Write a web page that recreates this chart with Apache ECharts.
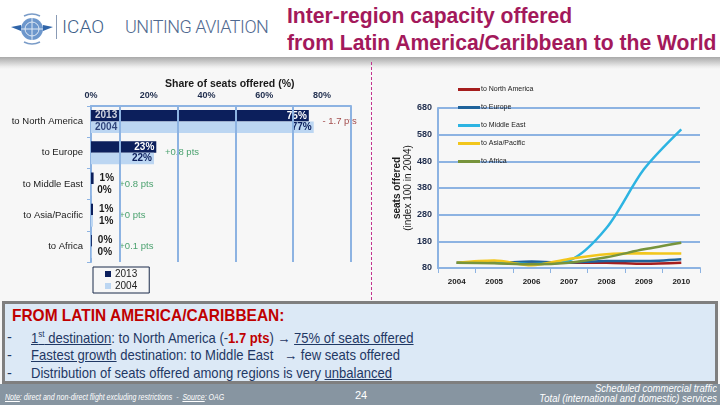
<!DOCTYPE html>
<html>
<head>
<meta charset="utf-8">
<script src="https://cdn.jsdelivr.net/npm/echarts@6/dist/echarts.min.js"></script>
<style>
  body { margin: 0; width: 720px; height: 405px; overflow: hidden; background: #f7f7f7; font-family: "Liberation Sans", sans-serif; }
  .abs { position: absolute; }
  .narrow { transform-origin: 0 0; white-space: nowrap; }
  #header { left: 0; top: 0; width: 720px; height: 57px; background: #fff; }
  #shade { left: 0; top: 57px; width: 720px; height: 12px; background: linear-gradient(#a9a9a9, #ececec 80%, #f7f7f7); }
  .ttl { left: 287px; color: #a3195b; font-family: "Liberation Sans", sans-serif; font-weight: bold; font-size: 22px; transform: scaleX(0.96); }
  #icao { left: 56px; top: 15px; font-family: Roboto, sans-serif; font-weight: 300; font-size: 19px; color: #3f5f8a; border-left: 1px solid #8a9bb5; padding-left: 5px; line-height: 24px; }
  #unit { left: 125px; top: 15px; font-family: Roboto, sans-serif; font-weight: 300; font-size: 18px; color: #50698f; letter-spacing: -0.5px; line-height: 24px; }
  #divider { left: 371px; top: 62px; height: 238px; border-left: 1px dashed #c2338f; }
  #box { left: 2px; top: 301px; width: 710px; height: 77px; background: #dce9f6; border: 3px solid #7f7f7f; }
  #box .hd { position: absolute; left: 7px; top: 2px; color: #c00000; font-weight: bold; font-size: 17px; transform: scaleX(0.91); }
  #box .d { position: absolute; left: 2px; color: #1f3864; font-size: 14.5px; }
  #box .ln { position: absolute; left: 26px; color: #1f3864; font-size: 14.5px; transform: scaleX(0.9); }
  #footer { left: 0; top: 384px; width: 720px; height: 21px; background: #8795a1; color: #fff; font-style: italic; }
</style>
</head>
<body>
<div id="header" class="abs"></div>
<svg class="abs" style="left:10px;top:12px" width="44" height="34" viewBox="0 0 44 34">
  <circle cx="22" cy="17" r="11" fill="#6d97cc"/>
  <circle cx="22" cy="17" r="7" fill="none" stroke="#dfe9f5" stroke-width="1"/>
  <line x1="22" y1="6" x2="22" y2="28" stroke="#dfe9f5" stroke-width="1"/>
  <line x1="11" y1="17" x2="33" y2="17" stroke="#dfe9f5" stroke-width="1"/>
  <path d="M11 13 L1 15 L11 19 Z" fill="#2f64a8"/>
  <path d="M33 13 L43 15 L33 19 Z" fill="#2f64a8"/>
  <path d="M14 4 Q22 0 30 4" stroke="#7a9cc8" fill="none" stroke-width="1.5"/>
  <path d="M14 30 Q22 34 30 30" stroke="#7a9cc8" fill="none" stroke-width="1.5"/>
</svg>
<div id="icao" class="abs">ICAO</div>
<div id="unit" class="abs">UNITING AVIATION</div>
<div class="abs ttl narrow" style="top:3px">Inter-region capacity offered</div>
<div class="abs ttl narrow" style="top:30px">from Latin America/Caribbean to the World</div>
<div id="shade" class="abs"></div>
<div id="divider" class="abs"></div>
<div id="box" class="abs">
  <div class="hd narrow">FROM LATIN AMERICA/CARIBBEAN:</div>
  <div class="d" style="top:25px">-</div>
  <div class="d" style="top:43px">-</div>
  <div class="d" style="top:61px">-</div>
  <div class="ln narrow" style="top:25px"><u>1<sup style="font-size:9px">st</sup> destination</u>: to North America (-<b style="color:#c00000">1.7 pts</b>) &rarr; <u>75% of seats offered</u></div>
  <div class="ln narrow" style="top:43px"><u>Fastest growth</u> destination: to Middle East &nbsp;&nbsp;&rarr; few seats offered</div>
  <div class="ln narrow" style="top:61px">Distribution of seats offered among regions is very <u>unbalanced</u></div>
</div>
<div id="footer" class="abs">
  <div class="abs narrow" style="left:5px;top:7px;font-size:9.5px;transform:scaleX(0.74)"><u>Note</u>: direct and non-direct flight excluding restrictions &nbsp;- &nbsp;<u>Source</u>: OAG</div>
  <div class="abs" style="left:355px;top:5px;font-size:11px;font-style:normal">24</div>
  <div class="abs" style="right:3px;top:0px;font-size:10px;text-align:right;line-height:10px;transform:scaleX(0.95);transform-origin:100% 0">Scheduled commercial traffic<br>Total (international and domestic) services</div>
</div>
<div id="chart" class="abs" style="left:0;top:0;width:720px;height:405px;z-index:5"></div>
<script>
// share of seats offered (%), by destination
const regions = ["to North America", "to Europe", "to Middle East", "to Asia/Pacific", "to Africa"];
const share2013 = [75.4, 22.6, 0.9, 0.7, 0.3];
const share2004 = [77.1, 21.8, 0.1, 0.7, 0.2];

// seats offered, index 100 in 2004
const years = ["2004", "2005", "2006", "2007", "2008", "2009", "2010"];
const idxNorthAmerica = [100, 100, 100, 100, 100, 96, 100];
const idxEurope = [100, 100, 104, 100, 106, 106, 113];
const idxMiddleEast = [100, 100, 95, 108, 230, 450, 600];
const idxAsiaPacific = [100, 108, 90, 114, 132, 135, 134];
const idxAfrica = [100, 98, 94, 100, 120, 150, 175];

const lineSeries = [
  { name: "to North America", data: idxNorthAmerica, color: "#a51d1d" },
  { name: "to Europe", data: idxEurope, color: "#1f639b" },
  { name: "to Middle East", data: idxMiddleEast, color: "#2db4e2" },
  { name: "to Asia/Pacific", data: idxAsiaPacific, color: "#f2c61c" },
  { name: "to Africa", data: idxAfrica, color: "#77943c" }
];

var navy = "#0c1f5c";
var paleBlue = "#bcd6f2";
var gridBlue = "#8db3e2";

function pct(v) { return Math.round(v) + "%"; }

function barData(vals, insideColor) {
  return vals.map(function (v) {
    var big = v > 10;
    return {
      value: v,
      label: {
        show: true,
        position: big ? "insideRight" : "right",
        distance: big ? 2 : 6,
        color: big ? insideColor : "#1a1a1a",
        fontWeight: "bold",
        fontSize: 10,
        formatter: function (p) { return pct(p.value); }
      }
    };
  });
}

var diffData = regions.map(function (r, i) {
  var d = parseFloat((share2013[i] - share2004[i]).toFixed(1));
  var txt = d < 0 ? "- " + Math.abs(d) + " pts" : "+" + d + " pts";
  var x = Math.max(Math.max(share2013[i], share2004[i]) + 3, 9.8);
  return {
    value: [x, r],
    label: { color: d < 0 ? "#8b1c1c" : "#1f8c4c", formatter: txt }
  };
});

var chart = echarts.init(document.getElementById("chart"));

var option = {
  animation: false,
  textStyle: { fontFamily: "Liberation Sans" },
  title: {
    text: "Share of seats offered (%)",
    left: 160, top: 74,
    textStyle: { fontSize: 10.5, fontWeight: "bold", color: "#1a1a1a" }
  },
  legend: [
    {
      data: ["2013", "2004"],
      orient: "vertical",
      left: 93, top: 267,
      borderColor: "#1a2a4a", borderWidth: 1,
      padding: [2, 12, 2, 12],
      itemGap: 2, itemWidth: 6, itemHeight: 6,
      icon: "rect",
      textStyle: { fontSize: 10, color: "#222", padding: [0, 0, 0, -1] }
    },
    {
      data: lineSeries.map(function (s) { return s.name; }),
      orient: "vertical",
      left: 453, top: 80,
      itemGap: 9, itemWidth: 22, itemHeight: 3,
      icon: "rect",
      textStyle: { fontSize: 7, color: "#1a1a1a", lineHeight: 9, padding: [0, 0, 0, -4] }
    }
  ],
  grid: [
    { left: 91, top: 106, width: 260, height: 156 },
    { left: 438, top: 108, width: 262, height: 160 }
  ],
  xAxis: [
    {
      gridIndex: 0, type: "value", position: "top",
      min: 0, max: 90, interval: 20,
      axisLine: { show: true, lineStyle: { color: gridBlue, width: 2 } },
      axisTick: { show: false },
      splitLine: { show: false },
      axisLabel: { showMaxLabel: false, margin: 6, fontSize: 9, fontWeight: "bold", color: "#1f2d4d", formatter: "{value}%" }
    },
    {
      gridIndex: 1, type: "category", data: years, boundaryGap: true,
      axisLine: { lineStyle: { color: gridBlue, width: 2 } },
      axisTick: { show: true, lineStyle: { color: gridBlue } },
      axisLabel: { fontSize: 8, fontWeight: "bold", color: "#1a1a1a", margin: 10 }
    }
  ],
  yAxis: [
    {
      gridIndex: 0, type: "category", data: regions, inverse: true,
      axisLine: { show: true, lineStyle: { color: gridBlue, width: 2 } },
      axisTick: { show: true, length: 4, lineStyle: { color: gridBlue } },
      axisLabel: { fontSize: 9.5, color: "#1a1a1a", margin: 8 }
    },
    {
      gridIndex: 1, type: "value", min: 80, max: 680, interval: 100,
      name: "{b|seats offered}\n{n|(index 100 in 2004)}",
      nameLocation: "middle", nameRotate: 90, nameGap: 24,
      nameTextStyle: {
        rich: {
          b: { fontSize: 10, fontWeight: "bold", color: "#1a1a1a", lineHeight: 11 },
          n: { fontSize: 10, color: "#1a1a1a", lineHeight: 11 }
        }
      },
      axisLine: { show: true, lineStyle: { color: gridBlue, width: 2 } },
      axisTick: { show: false },
      splitLine: { lineStyle: { color: gridBlue, width: 2 } },
      axisLabel: { fontSize: 9, fontWeight: "bold", color: "#1f2d4d", margin: 6 }
    }
  ],
  series: [
    {
      name: "grid", type: "scatter", xAxisIndex: 0, yAxisIndex: 0, data: [], silent: true, z: 1,
      markLine: {
        silent: true, symbol: "none", label: { show: false },
        lineStyle: { color: gridBlue, width: 2, type: "solid" },
        data: [10, 30, 50, 70, 90].map(function (v) { return { xAxis: v }; })
      }
    },
    {
      name: "2013", type: "bar", xAxisIndex: 0, yAxisIndex: 0, z: 3,
      barWidth: 11.5, barGap: "0%",
      itemStyle: { color: navy },
      data: barData(share2013, "#fff")
    },
    {
      name: "2004", type: "bar", xAxisIndex: 0, yAxisIndex: 0, z: 3,
      barWidth: 11.5, barGap: "0%",
      itemStyle: { color: paleBlue },
      data: barData(share2004, navy)
    },
    {
      name: "yearLabels", type: "scatter", xAxisIndex: 0, yAxisIndex: 0, symbolSize: 0, z: 4, silent: true,
      data: [
        { value: [0, regions[0]], label: { formatter: "2013", color: "#fff", offset: [0, -6] } },
        { value: [0, regions[0]], label: { formatter: "2004", color: navy, offset: [0, 6] } }
      ],
      label: { show: true, position: "right", distance: 4, fontSize: 10, fontWeight: "bold" }
    },
    {
      name: "diff", type: "scatter", xAxisIndex: 0, yAxisIndex: 0, symbolSize: 0, z: 4, silent: true,
      data: diffData,
      label: { show: true, position: "right", distance: 0, fontSize: 9.5 }
    }
  ].concat(lineSeries.map(function (s) {
    return {
      name: s.name, type: "line", xAxisIndex: 1, yAxisIndex: 1,
      data: s.data, smooth: 0.3, symbol: "none", z: 3,
      color: s.color,
      lineStyle: { width: 2.5, color: s.color }
    };
  }))
};

chart.setOption(option);
</script>
</body>
</html>
